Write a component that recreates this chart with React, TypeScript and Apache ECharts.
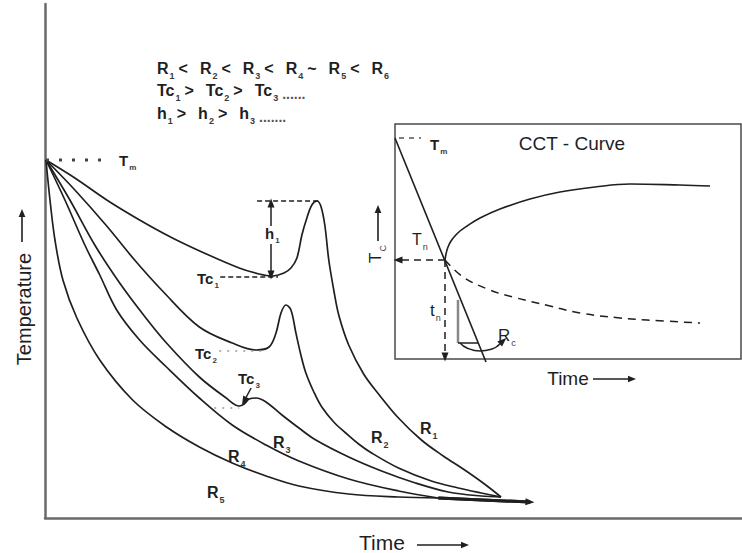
import React, { useEffect, useRef } from "react";
import * as echarts from "echarts";

const FONT = "'Liberation Sans', Arial, Helvetica, sans-serif";
const INK = "#1f1f1f";

// ---------- main diagram: [time, temperature] ----------
const r1Curve = [
  [1, 358], [30, 340], [62, 318], [95, 298], [128, 280], [162, 264], [195, 250], [215, 244],
  [228, 242], [240, 245], [247, 250], [253, 260], [258, 283], [263, 300], [268, 313], [273, 317],
  [277, 312], [281, 293], [285, 258], [290, 228], [295, 203], [305, 173], [320, 144], [335, 124],
  [355, 100], [378, 78], [400, 62], [420, 49], [440, 35], [458, 21],
];
const r2Curve = [
  [1, 358], [30, 328], [62, 292], [90, 258], [119, 226], [155, 191], [188, 175], [212, 168],
  [225, 171], [232, 185], [237, 205], [242, 213], [247, 208], [252, 185], [257, 163], [262, 145],
  [270, 126], [278, 111], [290, 96], [302, 85], [315, 74], [328, 65], [355, 50], [388, 37],
  [415, 30], [438, 25], [458, 21],
];
const r3Curve = [
  [1, 358], [25, 318], [50, 273], [75, 235], [99, 203], [122, 175], [155, 141], [182, 120],
  [195, 112], [200, 114], [205, 119], [212, 120], [222, 116], [238, 103], [255, 90], [272, 78],
  [305, 61], [338, 47], [372, 35], [405, 26], [438, 22], [458, 21],
];
const r4Curve = [
  [1, 358], [20, 318], [40, 273], [55, 243], [72, 208], [95, 178], [122, 151], [155, 120],
  [188, 93], [222, 73], [255, 57], [305, 39], [355, 27], [395, 20],
];
const r5Curve = [
  [1, 358], [5, 318], [10, 278], [18, 238], [32, 200], [55, 158], [88, 118], [122, 91],
  [155, 71], [188, 55], [222, 42], [255, 32], [305, 24], [355, 21], [395, 20],
];
const commonTail = [[395, 20], [487, 16]];

const meltLine = [[1, 358], [65, 358]];
const tc1Line = [[176, 241], [234, 241]];
const h1Top = [[213, 317], [275, 317]];
const tc2Line = [[175, 167], [217, 167]];
const tc3Line = [[170, 110], [195, 110]];
const h1UpArrow = [[227, 292], [227, 315]];
const h1DownArrow = [[227, 274], [227, 243]];
const tc3Arrow = [[207, 130], [200, 117]];

// ---------- CCT inset: [time, temperature] ----------
const coolingRateLine = [[0, 221], [91, -3]];
const inMeltLine = [[4, 221], [26, 221]];
const cctUpper = [
  [50, 99], [51, 105], [53, 112], [56, 118], [60, 123], [65, 128], [72, 133], [85, 141],
  [105, 150], [135, 160], [165, 167], [200, 172], [235, 175], [285, 174], [315, 173],
];
const cctLower = [
  [50, 99], [68, 82], [95, 69], [118, 62], [155, 53], [185, 46], [225, 41], [252, 39], [305, 36],
];
const tcArrow = [[50, 99], [3, 99]];
const tnArrow = [[50, 99], [50, 2]];
const slopeVertical = [[63, 16], [63, 59]];
const slopeHorizontal = [[63, 16], [83, 16]];
const rcArc = [[65, 16], [72, 11], [85, 8], [97, 10], [104, 14]];
const rcArrow = [[102, 12.5], [108, 18]];

const line = (data: number[][], grid: number, style: any = {}, extra: any = {}) => ({
  type: "line",
  data,
  xAxisIndex: grid,
  yAxisIndex: grid,
  symbol: "none",
  silent: true,
  smooth: 0.35,
  lineStyle: { color: INK, width: 1.7, ...style },
  ...extra,
});

const arrowSeries = (grid: number, list: { pts: number[][]; style?: any }[]) => ({
  type: "line",
  data: [],
  xAxisIndex: grid,
  yAxisIndex: grid,
  silent: true,
  markLine: {
    silent: true,
    symbol: ["none", "triangle"],
    symbolSize: [7, 9],
    label: { show: false },
    lineStyle: { color: INK, width: 1.5, type: "solid" },
    data: list.map((a) => [
      { coord: a.pts[0], lineStyle: { color: INK, width: 1.5, ...(a.style || {}) } },
      { coord: a.pts[1] },
    ]),
  },
});

const subLabel = (
  x: number, y: number, main: string, sub: string, size: number, weight: string, extra: any = {}
) => ({
  type: "text",
  x,
  y,
  silent: true,
  z: 100,
  ...extra,
  style: {
    text: sub ? `{m|${main}}{s|${sub}}` : `{m|${main}}`,
    align: extra.align || "left",
    verticalAlign: "middle",
    rich: {
      m: {
        fontFamily: FONT, fontSize: size, fontWeight: weight, fill: INK,
        padding: [0, 0, Math.round(size * 0.25), 0], verticalAlign: "bottom",
      },
      s: {
        fontFamily: FONT, fontSize: Math.round(size * 0.55), fontWeight: weight, fill: "#3a3a3a",
        padding: [0, 0, 0, 1], verticalAlign: "bottom",
      },
    },
  },
});

const formula = (x: number, y: number, text: string) => ({
  type: "text",
  x,
  y,
  silent: true,
  z: 100,
  style: {
    text,
    align: "left",
    verticalAlign: "middle",
    rich: {
      m: { fontFamily: FONT, fontSize: 16, fontWeight: "bold", fill: INK, padding: [0, 0, 4, 0], verticalAlign: "bottom" },
      o: { fontFamily: FONT, fontSize: 16, fontWeight: "bold", fill: INK, padding: [0, 12, 4, 0], verticalAlign: "bottom" },
      s: { fontFamily: FONT, fontSize: 9, fontWeight: "bold", fill: "#3a3a3a", padding: [0, 4, 0, 1], verticalAlign: "bottom" },
      d: { fontFamily: FONT, fontSize: 14, fontWeight: "bold", fill: "#555", padding: [0, 0, 1, 0], verticalAlign: "bottom" },
    },
  },
});

const plainText = (x: number, y: number, text: string, size: number, extra: any = {}) => ({
  type: "text",
  x,
  y,
  silent: true,
  z: 100,
  ...extra,
  style: { text, fontFamily: FONT, fontSize: size, fill: INK, align: "center", verticalAlign: "middle" },
});

const arrowGraphic = (x1: number, y1: number, x2: number, y2: number, head = 8, w = 1.6) => {
  const ang = Math.atan2(y2 - y1, x2 - x1);
  const hx = x2 - head * Math.cos(ang);
  const hy = y2 - head * Math.sin(ang);
  const px = -Math.sin(ang) * head * 0.42;
  const py = Math.cos(ang) * head * 0.42;
  return [
    { type: "line", silent: true, shape: { x1, y1, x2: hx, y2: hy }, style: { stroke: INK, lineWidth: w } },
    {
      type: "polygon",
      silent: true,
      shape: { points: [[x2, y2], [hx + px, hy + py], [hx - px, hy - py]] },
      style: { fill: INK },
    },
  ];
};

const hiddenAxis = (grid: number, max: number) => ({
  type: "value",
  gridIndex: grid,
  min: 0,
  max,
  axisLine: { show: false },
  axisTick: { show: false },
  axisLabel: { show: false },
  splitLine: { show: false },
});

const mainAxis = (max: number) => ({
  type: "value",
  gridIndex: 0,
  min: 0,
  max,
  axisLine: { show: true, onZero: false, lineStyle: { color: "#6a6a6a", width: 2.5 } },
  axisTick: { show: false },
  axisLabel: { show: false },
  splitLine: { show: false },
});

export default function App() {
  const ref = useRef<HTMLDivElement>(null);

  useEffect(() => {
    if (!ref.current) return;
    const chart = echarts.init(ref.current, undefined, { renderer: "svg" });
    const option: any = {
      animation: false,
      backgroundColor: "#ffffff",
      grid: [
        { left: 45, top: 4, width: 700, height: 514, show: false },
        { left: 395, top: 124, width: 346, height: 235, show: true, borderColor: "#4a4a4a", borderWidth: 1.5, backgroundColor: "#ffffff" },
      ],
      xAxis: [mainAxis(700), hiddenAxis(1, 346)],
      yAxis: [mainAxis(514), hiddenAxis(1, 235)],
      series: [
        line(r1Curve, 0),
        line(r2Curve, 0),
        line(r3Curve, 0),
        line(r4Curve, 0),
        line(r5Curve, 0),
        line(commonTail, 0, { width: 3 }, { smooth: false }),
        line(meltLine, 0, { type: [3, 10], width: 3, color: "#444" }, { smooth: false }),
        line(tc1Line, 0, { type: [5, 3], width: 1.5 }, { smooth: false }),
        line(h1Top, 0, { type: [5, 3], width: 1.5 }, { smooth: false }),
        line(tc2Line, 0, { type: [2, 6], width: 1.5, color: "#999" }, { smooth: false }),
        line(tc3Line, 0, { type: [2, 6], width: 1.5, color: "#999" }, { smooth: false }),
        arrowSeries(0, [
          { pts: h1UpArrow },
          { pts: h1DownArrow },
          { pts: tc3Arrow },
          { pts: commonTail, style: { width: 3 } },
        ]),
        // inset
        line(coolingRateLine, 1, { width: 1.6 }, { smooth: false, clip: false }),
        line(inMeltLine, 1, { type: [5, 5], width: 1.5, color: "#555" }, { smooth: false }),
        line(cctUpper, 1, { width: 1.6 }, { smooth: 0.4 }),
        line(cctLower, 1, { width: 1.5, type: [8, 6] }, { smooth: 0.4 }),
        line(slopeVertical, 1, { width: 2.5, color: "#888" }, { smooth: false }),
        line(slopeHorizontal, 1, { width: 1.5 }, { smooth: false }),
        line(rcArc, 1, { width: 1.4 }, { smooth: 0.5 }),
        arrowSeries(1, [
          { pts: tcArrow, style: { type: [7, 5] } },
          { pts: tnArrow, style: { type: [7, 5] } },
          { pts: rcArrow, style: { width: 1.4 } },
        ]),
      ],
      graphic: [
        // axis titles
        plainText(24, 309, "Temperature", 20, { rotation: Math.PI / 2 }),
        ...arrowGraphic(22, 242, 22, 209),
        plainText(382, 542, "Time", 21),
        ...arrowGraphic(417, 545, 469, 545),
        // formula block
        formula(157, 70, "{m|R}{s|1}{o|<}{m|R}{s|2}{o|<}{m|R}{s|3}{o|<}{m|R}{s|4}{o|~}{m|R}{s|5}{o|<}{m|R}{s|6}"),
        formula(157, 92, "{m|Tc}{s|1}{o|>}{m|Tc}{s|2}{o|>}{m|Tc}{s|3}{d|......}"),
        formula(157, 115, "{m|h}{s|1}{o|>}{m|h}{s|2}{o|>}{m|h}{s|3}{d|.......}"),
        // curve annotations
        subLabel(119, 162, "T", "m", 15, "bold"),
        subLabel(197, 280, "Tc", "1", 15, "bold"),
        subLabel(195, 355, "Tc", "2", 15, "bold"),
        subLabel(238, 380, "Tc", "3", 15, "bold"),
        subLabel(265, 235, "h", "1", 15, "bold"),
        subLabel(420, 430, "R", "1", 16, "bold"),
        subLabel(371, 439, "R", "2", 16, "bold"),
        subLabel(273, 444, "R", "3", 16, "bold"),
        subLabel(228, 458, "R", "4", 16, "bold"),
        subLabel(207, 494, "R", "5", 16, "bold"),
        // inset annotations
        plainText(572, 143, "CCT - Curve", 19),
        plainText(568, 378, "Time", 19),
        ...arrowGraphic(593, 379, 636, 379),
        subLabel(430, 146, "T", "m", 15, "bold"),
        subLabel(412, 241, "T", "n", 16, "normal"),
        subLabel(430, 312, "t", "n", 17, "normal"),
        subLabel(498, 337, "R", "c", 17, "normal"),
        subLabel(377, 254, "T", "C", 17, "normal", { rotation: Math.PI / 2, align: "center" }),
        ...arrowGraphic(378, 241, 378, 205),
      ],
    };
    chart.setOption(option);
    return () => chart.dispose();
  }, []);

  return (
    <div
      ref={ref}
      style={{ position: "fixed", left: 0, top: 0, width: 742, height: 553, background: "#fff" }}
    />
  );
}
